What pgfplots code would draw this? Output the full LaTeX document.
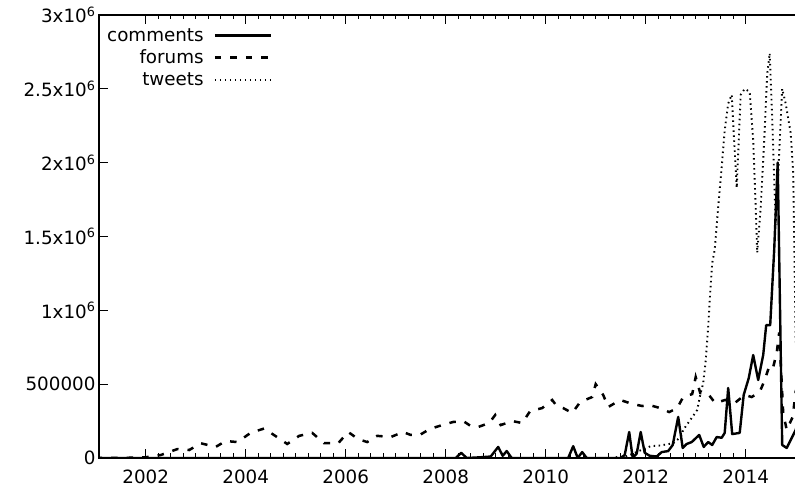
\documentclass[border=0pt]{standalone}
\usepackage{pgfplots}
\pgfplotsset{compat=1.18}
\usepackage{fontspec}
\setmainfont{DejaVu Sans}
\newcommand{\tfont}{\fontsize{18.3}{22}\selectfont}
\newcommand{\xl}[1]{\rule{0pt}{22pt}#1}
\begin{document}
\begin{tikzpicture}
\begin{axis}[
  name=ax,
  scale only axis,
  width=699.2pt, height=443pt,
  xmin=2001.066, xmax=2015.05,
  ymin=0, ymax=3000000,
  axis line style={line width=1.2pt, black},
  xtick={2002,2004,2006,2008,2010,2012,2014},
  xticklabels={\xl{2002},\xl{2004},\xl{2006},\xl{2008},\xl{2010},\xl{2012},\xl{2014}},
  minor x tick num=7,
  xtick pos=both, ytick pos=left,
  ytick={0,500000,1000000,1500000,2000000,2500000,3000000},
  yticklabels={0,500000,1x10\textsuperscript{6},1.5x10\textsuperscript{6},2x10\textsuperscript{6},2.5x10\textsuperscript{6},3x10\textsuperscript{6}},
  scaled y ticks=false,
  tick align=inside,
  major tick length=9pt, minor tick length=4.5pt,
  every tick/.style={black, line width=1pt},
  tick label style={font=\tfont},
  legend plot pos=right,
  legend cell align=right,
  legend style={draw=none, fill=none, font=\tfont, at={(axis description cs:0,1)}, anchor=north west, xshift=3pt, yshift=-9pt, row sep=3.3pt, column sep=8pt},
  legend image code/.code={\draw[#1,line cap=butt] (0pt,0pt) -- (56pt,0pt);},
]
\addplot[black, line width=2.4pt, line join=round] coordinates {
(2001.0,0) (2008.2,0) (2008.31,35000) (2008.42,0) (2008.7,5000) (2008.9,10000)
(2009.05,75000) (2009.14,15000) (2009.22,47000) (2009.32,0) (2010.45,0)
(2010.55,80000) (2010.64,0) (2010.73,40000) (2010.82,0) (2011.5,0) (2011.58,20000)
(2011.67,176000) (2011.74,0) (2011.82,30000) (2011.9,176000) (2011.98,35000)
(2012.08,15000) (2012.22,10000) (2012.32,40000) (2012.45,47000) (2012.54,88000)
(2012.65,278000) (2012.74,68000) (2012.82,95000) (2012.92,108000) (2013.07,156000)
(2013.16,75000) (2013.25,108000) (2013.33,88000) (2013.42,142000) (2013.52,137000)
(2013.58,170000) (2013.65,474000) (2013.73,162000) (2013.88,170000) (2013.96,427000)
(2014.06,540000) (2014.15,697000) (2014.25,528000) (2014.35,697000) (2014.41,900000)
(2014.49,900000) (2014.57,1410000) (2014.64,2000000) (2014.73,88000) (2014.82,68000)
(2015.0,190000) (2015.05,260000)
};
\addlegendentry{comments}
\addplot[black, line width=2.5pt, dash pattern=on 6.5pt off 9pt] coordinates {
(2001.0,0) (2001.5,0) (2002.0,5000) (2002.3,20000) (2002.63,60000) (2002.87,54000)
(2003.1,100000) (2003.4,75000) (2003.6,115000) (2003.83,108000) (2004.1,170000)
(2004.37,200000) (2004.59,150000) (2004.83,95000) (2005.07,150000) (2005.33,170000)
(2005.57,100000) (2005.85,100000) (2006.05,176000) (2006.25,128000) (2006.43,108000)
(2006.63,150000) (2006.9,142000) (2007.15,176000) (2007.3,156000) (2007.48,156000)
(2007.68,196000) (2007.93,223000) (2008.15,244000) (2008.35,250000) (2008.5,217000)
(2008.65,210000) (2008.87,237000) (2008.99,291000) (2009.1,223000) (2009.33,250000)
(2009.53,237000) (2009.69,318000) (2009.93,338000) (2010.13,393000) (2010.22,352000)
(2010.35,338000) (2010.53,305000) (2010.69,379000) (2010.93,413000) (2011.0,500000)
(2011.15,427000) (2011.25,345000) (2011.49,393000) (2011.73,366000) (2011.93,352000)
(2012.07,359000) (2012.29,338000) (2012.47,311000) (2012.63,338000) (2012.75,413000)
(2012.93,433000) (2013.0,548000) (2013.09,440000) (2013.25,433000) (2013.39,372000)
(2013.59,393000) (2013.78,372000) (2013.98,427000) (2014.12,413000) (2014.28,447000)
(2014.38,528000) (2014.48,630000) (2014.55,616000) (2014.62,711000) (2014.67,850000)
(2014.75,305000) (2014.82,190000) (2014.94,278000) (2015.0,450000) (2015.05,500000)
};
\addlegendentry{forums}
\addplot[black, line width=1.9pt, dash pattern=on 1.5pt off 3.5pt] coordinates {
(2011.4,5000) (2011.6,10000) (2011.75,30000) (2011.95,60000) (2012.1,80000)
(2012.3,85000) (2012.55,100000) (2012.7,142000) (2012.75,190000) (2012.89,257000)
(2013.03,325000) (2013.09,427000) (2013.15,507000) (2013.2,660000) (2013.25,890000)
(2013.29,1120000) (2013.33,1320000) (2013.38,1410000) (2013.45,1700000)
(2013.52,1970000) (2013.58,2220000) (2013.65,2400000) (2013.72,2460000)
(2013.82,1830000) (2013.9,2460000) (2013.98,2500000) (2014.08,2480000)
(2014.15,2150000) (2014.2,1700000) (2014.23,1390000) (2014.3,1700000)
(2014.37,2150000) (2014.43,2600000) (2014.48,2740000) (2014.53,2300000)
(2014.6,1580000) (2014.66,2000000) (2014.73,2500000) (2014.8,2400000)
(2014.9,2200000) (2014.95,1930000) (2015.0,800000) (2015.05,500000)
};
\addlegendentry{tweets}
\end{axis}
\pgfresetboundingbox
\path[use as bounding box] ([xshift=-99pt,yshift=-34pt]ax.south west) rectangle ([xshift=-3.2pt,yshift=15pt]ax.north east);
\end{tikzpicture}
\end{document}
